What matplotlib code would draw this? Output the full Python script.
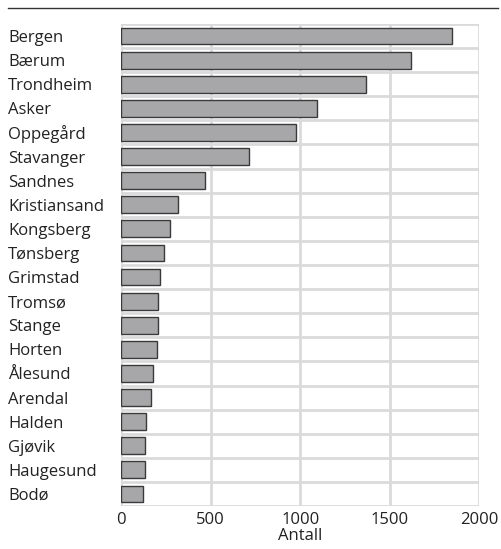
import matplotlib.pyplot as plt
from matplotlib.lines import Line2D

plt.rcParams['font.family'] = ['Open Sans', 'DejaVu Sans']

kommuner = ['Bergen', 'Bærum', 'Trondheim', 'Asker', 'Oppegård', 'Stavanger',
            'Sandnes', 'Kristiansand', 'Kongsberg', 'Tønsberg', 'Grimstad',
            'Tromsø', 'Stange', 'Horten', 'Ålesund', 'Arendal', 'Halden',
            'Gjøvik', 'Haugesund', 'Bodø']
antall = [1849, 1620, 1365, 1096, 975, 713, 468, 318, 273, 240, 217,
          206, 206, 200, 178, 170, 138, 136, 132, 125]
xticks = [0, 500, 1000, 1500, 2000]

W, H = 502, 549
fig = plt.figure(figsize=(W / 100, H / 100), dpi=100)
ax = fig.add_axes([121 / W, 1 - 506 / H, (479.5 - 121) / W, (506 - 24) / H])

ypos = list(range(len(kommuner)))
ax.barh(ypos, antall, height=0.7, color='#a7a7a9', edgecolor='#3a3a3a',
        linewidth=1, zorder=3)

ax.set_xlim(0, 2000)
ax.set_ylim(len(kommuner) - 0.5, -0.5)
ax.set_xticks(xticks)
ax.set_xticklabels([str(v) for v in xticks], fontsize=12, color='#222222')
ax.set_yticks(ypos)
ax.set_yticklabels(kommuner, fontsize=12, color='#222222', ha='left')
ax.tick_params(axis='y', length=0, pad=(121 - 8) * 0.72)
ax.tick_params(axis='x', length=0, pad=4)

# grid: vertical at ticks, horizontal between rows
ax.set_yticks([i + 0.5 for i in range(-1, len(kommuner))], minor=True)
ax.grid(axis='x', which='major', color='#dadada', linewidth=2, zorder=0)
ax.grid(axis='y', which='minor', color='#dadada', linewidth=2, zorder=0)
ax.tick_params(axis='y', which='minor', length=0)
for s in ax.spines.values():
    s.set_visible(False)

ax.set_xlabel('Antall', fontsize=12, color='#222222', labelpad=0)

fig.add_artist(Line2D([8 / W, 498 / W], [1 - 8 / H, 1 - 8 / H],
                      color='#333333', linewidth=1))

fig.savefig('out.png', dpi=100)
